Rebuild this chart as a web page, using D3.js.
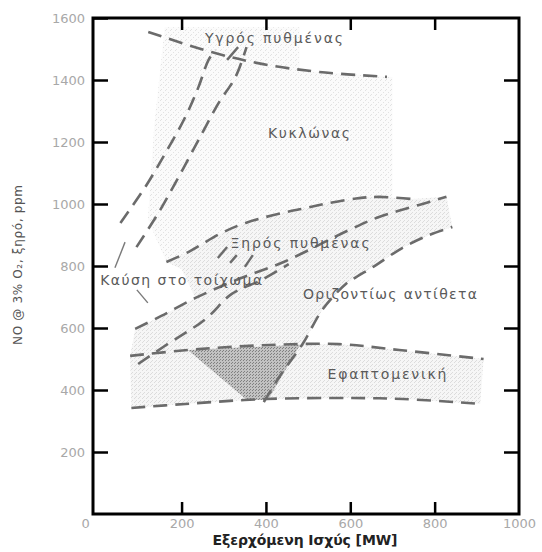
<!DOCTYPE html>
<html lang="el">
<head>
<meta charset="UTF-8">
<title>NO vs output</title>
<script src="https://cdn.jsdelivr.net/npm/d3@7"></script>
<style>
  body { margin: 0; background: #fff; }
  text { font-family: "DejaVu Sans", sans-serif; }
</style>
</head>
<body>
<script>
// ---- data (MW, ppm) ----
const xTicks = [0, 200, 400, 600, 800, 1000]
const yTicks = [200, 400, 600, 800, 1000, 1200, 1400, 1600]

// dashed boundaries
const wetBottom = [[121,1555],[271,1490],[390,1452],[526,1426],[687,1410]]
const wallOuter = [[55,939],[114,1055],[162,1165],[209,1281],[240,1377],[264,1465],[281,1497]]
const wallInner = [[93,861],[145,971],[193,1087],[240,1206],[288,1326],[328,1410],[354,1506]]
const dryTop = [[164,813],[216,845],[294,906],[352,939],[438,971],[495,987],[549,1003],[621,1019],[668,1023],[747,1016]]
const dryLow = [[90,597],[152,639],[233,697],[335,758],[442,813],[597,916],[668,958],[763,997],[828,1023]]
const wallLow = [[97,484],[160,542],[257,629],[319,710],[390,755],[454,806]]
const opposedLow = [[395,361],[433,445],[488,551],[535,661],[592,745],[614,764],[661,803],[723,858],[787,900],[842,926]]
const tangTop = [[78,510],[240,532],[407,545],[573,548],[716,529],[916,500]]
const tangLow = [[81,342],[209,355],[400,371],[606,374],[725,371],[908,355]]

// short strokes and leader lines
const shortDashes = [
  [[308,1465],[334,1506]],
  [[286,826],[308,861]],
  [[315,810],[331,835]],
  [[350,797],[369,835]]
]
const leaders = [
  [[42,794],[66,877]],
  [[94,723],[120,681]]
]

// shaded zones
const cycloneZone = [[160,1570],[480,1570],[480,1430],[700,1410],[700,1020],
  [621,1019],[549,1003],[438,971],[352,939],[294,906],[216,845],[164,813],[120,950],[135,1250]]
const bandZone = dryTop.concat([[828,1023],[842,926],[787,900],[723,858],[661,803],[614,764],[592,745],[535,661],[488,551],
  [407,545],[240,532],[78,510],[90,597],[152,639],[233,697],[200,790]])
const tangZone = tangTop.concat(tangLow.slice().reverse())
const overlapZone = [[215,529],[481,546],[405,368],[355,368]]

const zoneNames = ["Υγρός πυθμένας", "Κυκλώνας", "Ξηρός πυθμένας", "Καύση στο τοίχωμα", "Οριζοντίως αντίθετα", "Εφαπτομενική"]
const zoneAt = [[419,1535],[502,1229],[481,874],[199,755],[694,710],[687,452]]
const zoneWidth = [138, 82, 139, 162, 174, 119]

// ---- chart ----
const width = 542, height = 552
const svg = d3.select("body").append("svg").attr("width", width).attr("height", height)

const x = d3.scaleLinear().domain([-10, 1000]).range([93, 519])
const y = d3.scaleLinear().domain([0, 1600]).range([514, 18])

const defs = svg.append("defs")
function stipple(id, size, base, dots, dotColor) {
  const p = defs.append("pattern").attr("id", id).attr("patternUnits", "userSpaceOnUse")
    .attr("width", size).attr("height", size)
  p.append("rect").attr("width", size).attr("height", size).attr("fill", base)
  dots.forEach(d => p.append("rect").attr("x", d[0]).attr("y", d[1]).attr("width", 1).attr("height", 1).attr("fill", dotColor))
}
stipple("light", 5, "#fbfbfb", [[0,0],[3,2],[1,4]], "#e2e2e2")
stipple("band", 4, "#f6f6f6", [[0,0],[2,2],[3,1]], "#dcdcdc")
stipple("dark", 3, "#c2c2c2", [[0,0],[1,2]], "#808080")

const area = d3.line().x(d => x(d[0])).y(d => y(d[1])).curve(d3.curveLinearClosed)
svg.append("path").attr("d", area(cycloneZone)).attr("fill", "url(#light)")
svg.append("path").attr("d", area(bandZone)).attr("fill", "url(#band)")
svg.append("path").attr("d", area(tangZone)).attr("fill", "url(#band)")
svg.append("path").attr("d", area(overlapZone)).attr("fill", "url(#dark)")

const curve = d3.line().x(d => x(d[0])).y(d => y(d[1])).curve(d3.curveCatmullRom)
const dashed = [wetBottom, wallOuter, wallInner, dryTop, dryLow, wallLow, opposedLow, tangTop, tangLow]
svg.append("g").selectAll("path").data(dashed).enter().append("path")
  .attr("d", curve)
  .attr("fill", "none")
  .attr("stroke", "#6b6b6b")
  .attr("stroke-width", 2.6)
  .attr("stroke-dasharray", "14,8")

svg.append("g").selectAll("path").data(shortDashes).enter().append("path")
  .attr("d", curve).attr("stroke", "#6b6b6b").attr("stroke-width", 2.4)

svg.append("g").selectAll("path").data(leaders).enter().append("path")
  .attr("d", curve).attr("stroke", "#7a7a7a").attr("stroke-width", 1.4)

svg.append("g").selectAll("text").data(zoneNames).enter().append("text")
  .attr("x", (d, i) => x(zoneAt[i][0]))
  .attr("y", (d, i) => y(zoneAt[i][1]))
  .attr("dy", "0.35em")
  .attr("text-anchor", "middle")
  .attr("font-size", 14)
  .attr("fill", "#5a5a5a")
  .attr("textLength", (d, i) => zoneWidth[i])
  .attr("lengthAdjust", "spacing")
  .text(d => d)

// axes with inward ticks
function styleAxis(g) {
  g.select(".domain").remove()
  g.selectAll(".tick line").attr("stroke", "#000").attr("stroke-width", 2.5)
  g.selectAll(".tick text").attr("fill", "#a8a8a8").attr("font-size", 13)
    .attr("font-family", "'DejaVu Sans', sans-serif")
}
const fmt = d3.format("d")
svg.append("g").attr("transform", "translate(93,0)")
  .call(d3.axisLeft(y).tickValues(yTicks).tickFormat(fmt).tickSize(-15).tickPadding(8)).call(styleAxis)
svg.append("g").attr("transform", "translate(519,0)")
  .call(d3.axisRight(y).tickValues(yTicks.slice(0, -1)).tickSize(-15).tickFormat("")).call(styleAxis)
const bottom = svg.append("g").attr("transform", "translate(0,514)")
  .call(d3.axisBottom(x).tickValues(xTicks).tickFormat(fmt).tickSize(-12).tickPadding(5)).call(styleAxis)
bottom.selectAll(".tick").filter(d => d === 0 || d === 1000).select("line").remove()
bottom.selectAll(".tick").filter(d => d === 0).select("text").attr("dx", -12)
svg.append("g").attr("transform", "translate(0,18)")
  .call(d3.axisTop(x).tickValues(xTicks.slice(1, -1)).tickSize(-12).tickFormat("")).call(styleAxis)

svg.append("rect").attr("x", 93).attr("y", 18).attr("width", 426).attr("height", 496)
  .attr("fill", "none").attr("stroke", "#000").attr("stroke-width", 3)

svg.append("text")
  .attr("transform", "translate(18,265) rotate(-90)")
  .attr("text-anchor", "middle").attr("dy", "0.35em")
  .attr("font-size", 12).attr("fill", "#555")
  .attr("textLength", 160).attr("lengthAdjust", "spacing")
  .text("NO @ 3% O₂, ξηρό, ppm")

svg.append("text")
  .attr("x", 305).attr("y", 540).attr("dy", "0.35em")
  .attr("text-anchor", "middle")
  .attr("font-family", "'Liberation Sans', Arial, sans-serif")
  .attr("font-size", 14).attr("font-weight", "bold").attr("fill", "#222")
  .attr("textLength", 185).attr("lengthAdjust", "spacing")
  .text("Εξερχόμενη Ισχύς [MW]")
</script>
</body>
</html>
